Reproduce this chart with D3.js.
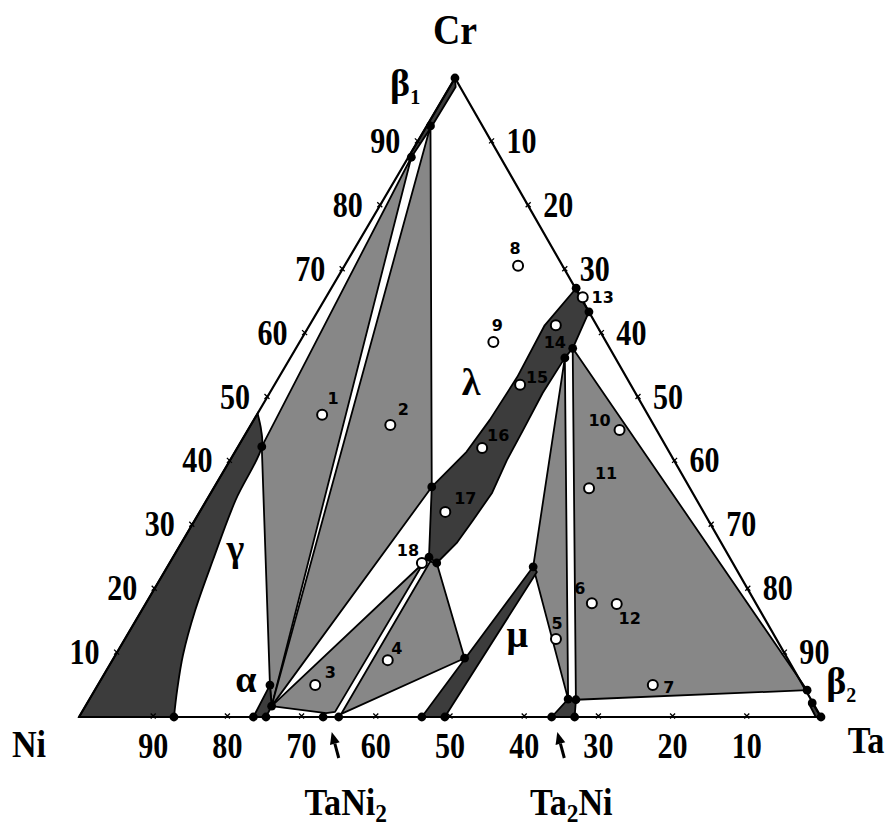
<!DOCTYPE html>
<html>
<head>
<meta charset="utf-8">
<script src="https://cdn.jsdelivr.net/npm/d3@7"></script>
<style>
body{margin:0;background:#fff}
</style>
</head>
<body>
<div id="chart"></div>
<script>
// compositions are [Ta, Cr] in at.%, Ni is the balance
const axisTicks=[10,20,30,40,50,60,70,80,90]

const beta1=[[0,100],[0.8,98.6],[0.7,92.5],[0.4,87.6],[0,87.6]]
const gammaBoundary=[[0,47.5],[1.8,44.9],[3.2,42.3],[3.9,34.0],[5.6,24.6],[7.2,16.7],[9.1,9.7],[11.1,4.2],[12.8,0]]
const alpha=[[23.5,0],[23.2,5.0],[25.1,1.7],[25.2,0]]
const lambda=[[33.0,67.1],[31.7,61.3],[32.1,53.2],[31.8,46.5],[31.2,41.5],[29.3,36.0],[34.5,25.0],[36.0,24.1],
	[37.1,27.2],[37.5,30.8],[37.9,35.1],[37.3,40.2],[37.1,44.9],[36.8,50.7],[37.0,56.2],[37.3,57.7],[36.6,63.4]]
const mu=[[46.2,0],[49.3,23.5],[50.2,22.7],[49.3,0]]
const ta2ni=[[63.7,0],[64.5,2.8],[65.6,2.7],[66.8,0]]
const beta2=[[97.7,2.2],[100,0],[99.3,0],[97.4,2.0]]

const tieTriangles=[
	[[0.4,87.6],[3.2,42.3],[23.2,5.0],[25.1,1.7]],
	[[0.5,92.5],[29.3,36.0],[25.1,1.7]],
	[[25.1,1.7],[34.2,24.1],[34.1,0.8],[33.0,0.6]],
	[[35.0,24.3],[36.0,24.1],[47.3,9.2],[35.1,0.5]],
	[[37.0,56.2],[49.3,23.5],[64.5,2.8]],
	[[37.3,57.7],[96.0,4.2],[65.6,2.7]]
]

const nodes=[[0,100],[0.5,92.5],[0.4,87.6],[3.2,42.3],[12.8,0],[23.5,0],[25.2,0],[23.2,5.0],[25.1,1.7],
	[32.9,0],[35.0,0],[46.2,0],[49.3,0],[47.3,9.2],[49.3,23.5],[33.0,67.1],[36.6,63.4],[37.3,57.7],[37.0,56.2],
	[29.3,36.0],[34.5,25.0],[36.0,24.1],[63.7,0],[66.8,0],[64.5,2.8],[65.6,2.7],[96.0,4.2],[97.7,2.2],[100,0]]

const sampleIds=[1,2,3,4,5,6,7,8,9,10,11,12,13,14,15,16,17,18]
const sampleTa=[8.8,18.8,29.3,37.1,58.1,60.1,74.8,23.4,26.1,50.1,50.6,63.5,34.6,33.2,33.1,33.0,33.1,34.0]
const sampleCr=[47.3,45.7,5.0,8.9,12.2,17.8,5.0,70.6,58.7,44.9,35.8,17.7,65.7,61.3,52.0,42.1,32.1,24.1]

const phaseNames=[
	{name:'β',sub:'1',at:[-5.3,97.2]},
	{name:'γ',sub:'',at:[8.7,24.4]},
	{name:'α',sub:'',at:[20.5,3.9]},
	{name:'λ',sub:'',at:[27.3,50.4]},
	{name:'μ',sub:'',at:[53.5,11.0]},
	{name:'β',sub:'2',at:[100.9,3.6]}
]
const compounds=[
	{parts:[['TaNi',0],['2',1]],ta:34.6},
	{parts:[['Ta',0],['2',1],['Ni',0]],ta:65.0}
]

// layout
const labelShift={1:[11,-17],2:[13,-16],3:[15,-13],4:[9,-12],5:[1,-16],6:[-12,-15],7:[16,2],8:[-3,-18],9:[4,-17],
	10:[-20,-10],11:[17,-15],12:[13,14],13:[20,0],14:[-1,17],15:[17,-8],16:[16,-13],17:[20,-14],18:[-14,-13]}
const dark='#3c3c3c', gray='#878787'
const serif="'Liberation Serif','Times New Roman',serif"

const svg=d3.select('#chart').append('svg')
	.attr('width',890)
	.attr('height',831)
	.style('background','#fff')

const xScale=d3.scaleLinear().domain([0,100]).range([79,821])
const yScale=d3.scaleLinear().domain([0,100]).range([717,78])
const skew=0.5067
const px=d=>xScale(d[0]+d[1]*skew)
const py=d=>yScale(d[1])

const area=d3.line().x(px).y(py).curve(d3.curveLinearClosed)

// three-phase regions
svg.selectAll('.tie')
	.data(tieTriangles)
	.join('path')
	.attr('class','tie')
	.attr('d',area)
	.attr('fill',gray)
	.attr('stroke','#000')
	.attr('stroke-width',1.8)
	.attr('stroke-linejoin','round')

// gamma solid solution with its curved boundary
const gammaPath=d3.line().x(px).y(py).curve(d3.curveCatmullRom)(gammaBoundary)
	+'L'+px([0,0])+','+py([0,0])+'Z'
svg.append('path')
	.attr('d',gammaPath)
	.attr('fill',dark)
	.attr('stroke','#000')
	.attr('stroke-width',1.8)

svg.selectAll('.phase')
	.data([beta1,alpha,lambda,mu,ta2ni,beta2])
	.join('path')
	.attr('class','phase')
	.attr('d',area)
	.attr('fill',dark)
	.attr('stroke','#000')
	.attr('stroke-width',1.8)
	.attr('stroke-linejoin','round')

// triangle frame
svg.append('path')
	.attr('d',area([[0,0],[100,0],[0,100]]))
	.attr('fill','none')
	.attr('stroke','#000')
	.attr('stroke-width',2.2)
	.attr('stroke-linejoin','round')

// small cross ticks on the three sides
const tickPts=[]
axisTicks.forEach(v=>{
	tickPts.push([v,0],[0,v],[v,100-v])
})
svg.selectAll('.tick')
	.data(tickPts)
	.join('path')
	.attr('class','tick')
	.attr('d',d=>{
		const x=px(d),y=py(d)-1
		return `M${x-2.5},${y-2.5}L${x+2.5},${y+2.5}M${x-2.5},${y+2.5}L${x+2.5},${y-2.5}`
	})
	.attr('stroke','#000')
	.attr('stroke-width',1.3)

function bigText(str,x,y,size,sx){
	return svg.append('text')
		.attr('transform',`translate(${x},${y}) scale(${sx},1)`)
		.attr('text-anchor','middle')
		.attr('font-family',serif)
		.attr('font-weight','bold')
		.attr('font-size',size)
		.text(str)
}

// axis numbers
axisTicks.forEach(v=>{
	bigText(100-v,px([v,0]),758,35,0.86)
	bigText(v,px([0,v])-32,py([0,v])+11,35,0.86)
	bigText(v,px([v,100-v])+30,py([v,100-v])+11,35,0.86)
})

// corner elements
bigText('Cr',px([0,100]),44,42,0.9)
bigText('Ni',px([0,0])-50,757,38,0.9)
bigText('Ta',px([100,0])+45,753,38,0.9)

// node dots
svg.selectAll('.node')
	.data(nodes)
	.join('circle')
	.attr('class','node')
	.attr('cx',px)
	.attr('cy',py)
	.attr('r',4.4)
	.attr('fill','#000')

// samples
const samples=sampleIds.map((id,i)=>({id,ta:sampleTa[i],cr:sampleCr[i]}))
svg.selectAll('.sample')
	.data(samples)
	.join('circle')
	.attr('class','sample')
	.attr('cx',d=>px([d.ta,d.cr]))
	.attr('cy',d=>py([d.ta,d.cr]))
	.attr('r',5)
	.attr('fill','#fff')
	.attr('stroke','#000')
	.attr('stroke-width',2)

svg.selectAll('.sample-label')
	.data(samples)
	.join('text')
	.attr('class','sample-label')
	.attr('x',d=>px([d.ta,d.cr])+labelShift[d.id][0])
	.attr('y',d=>py([d.ta,d.cr])+labelShift[d.id][1]+6)
	.attr('text-anchor','middle')
	.attr('font-family',"'DejaVu Sans',sans-serif")
	.attr('font-weight','bold')
	.attr('font-size',16)
	.text(d=>d.id)

// phase names
phaseNames.forEach(p=>{
	const t=svg.append('text')
		.attr('x',px(p.at))
		.attr('y',py(p.at))
		.attr('text-anchor','middle')
		.attr('font-family',serif)
		.attr('font-weight','bold')
		.attr('font-size',38)
	t.append('tspan').text(p.name)
	if(p.sub) t.append('tspan').attr('font-size',20).attr('dy',8).text(p.sub)
})

// compound arrows and names
compounds.forEach(c=>{
	const x0=xScale(c.ta)+3,y0=758,x1=x0-7,y1=732
	const len=Math.hypot(x1-x0,y1-y0),ux=(x1-x0)/len,uy=(y1-y0)/len
	const hx=x1-ux*12,hy=y1-uy*12
	svg.append('path')
		.attr('d',`M${x0},${y0}L${hx},${hy}`)
		.attr('stroke','#000')
		.attr('stroke-width',3)
	svg.append('path')
		.attr('d',`M${x1},${y1}L${hx-uy*5},${hy+ux*5}L${hx+uy*5},${hy-ux*5}Z`)
		.attr('fill','#000')
	const t=svg.append('text')
		.attr('transform',`translate(${xScale(c.ta)+10},815) scale(0.9,1)`)
		.attr('text-anchor','middle')
		.attr('font-family',serif)
		.attr('font-weight','bold')
		.attr('font-size',38)
	c.parts.forEach(([s,sub],i)=>{
		t.append('tspan')
			.attr('font-size',sub?26:38)
			.attr('dy',sub?7:(i>0?-7:0))
			.text(s)
	})
})
</script>
</body>
</html>
